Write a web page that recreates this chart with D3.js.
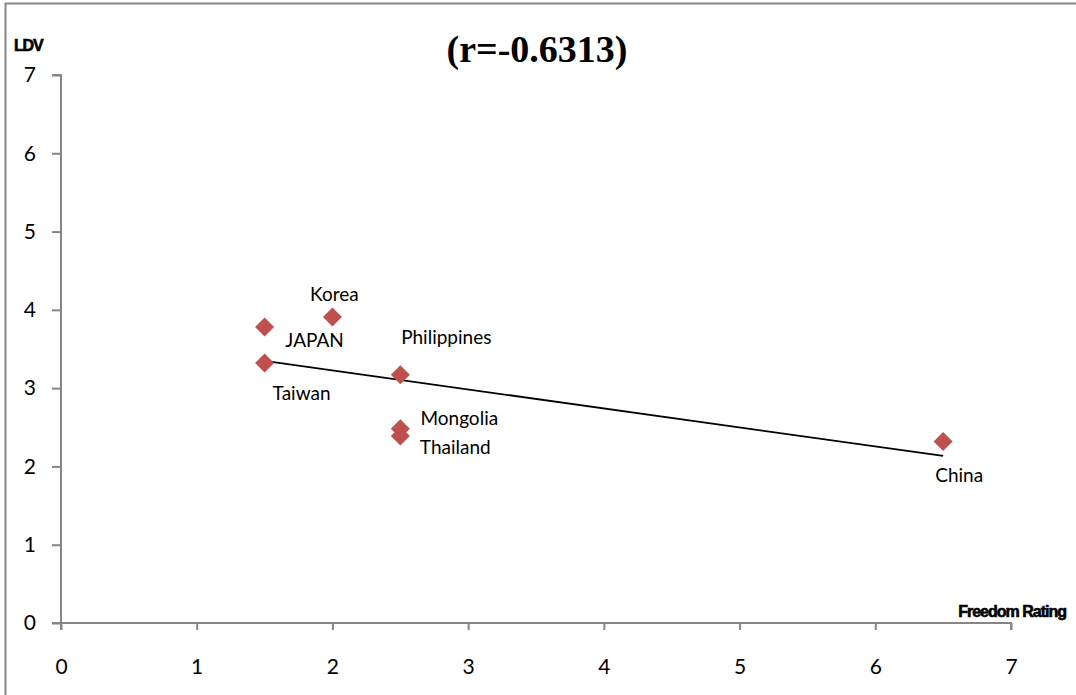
<!DOCTYPE html>
<html><head><meta charset="utf-8">
<script src="https://cdn.jsdelivr.net/npm/d3@7"></script>
<style>
html,body{margin:0;padding:0;background:#fff;}
svg{display:block;}
</style>
</head><body>
<svg id="chart" width="1076" height="695"></svg>
<script>
const countries = ["JAPAN","Taiwan","Korea","Philippines","Mongolia","Thailand","China"];
const freedom = [1.5, 1.5, 2, 2.5, 2.5, 2.5, 6.5];
const ldv = [3.78, 3.32, 3.91, 3.17, 2.48, 2.39, 2.32];
const xTicks = [0,1,2,3,4,5,6,7];
const yTicks = [0,1,2,3,4,5,6,7];
const titleText = "(r=-0.6313)";
const xTitle = "Freedom Rating";
const yTitle = "LDV";
// label offsets (dx, dy) relative to point, in px
const labelOffsets = [[50,12],[37,29],[2,-23],[46,-38],[59,-11],[55,11],[16,33]];

const svg = d3.select("#chart");
const axisColor = "#868686";
const x = d3.scaleLinear().domain([0,7]).range([61,1011]);
const y = d3.scaleLinear().domain([0,7]).range([623,75]);

// frame (top and left edges)
svg.append("line").attr("x1",5).attr("x2",1076).attr("y1",3.5).attr("y2",3.5).attr("stroke",axisColor).attr("stroke-width",2);
svg.append("line").attr("x1",5.5).attr("x2",5.5).attr("y1",3).attr("y2",695).attr("stroke",axisColor).attr("stroke-width",2);

// axes
const xAxis = d3.axisBottom(x).tickValues(xTicks).tickSize(7).tickPadding(29).tickFormat(d3.format("d"));
const gx = svg.append("g").attr("transform",`translate(0,${y(0)})`).call(xAxis);
const yAxis = d3.axisLeft(y).tickValues(yTicks).tickSize(9).tickPadding(16).tickFormat(d3.format("d"));
const gy = svg.append("g").attr("transform",`translate(${x(0)},0)`).call(yAxis);
[gx,gy].forEach(g=>{
  g.select(".domain").attr("stroke",axisColor).attr("stroke-width",2);
  g.selectAll(".tick line").attr("stroke",axisColor).attr("stroke-width",2);
  g.selectAll(".tick text").attr("font-family","Lato, 'Open Sans', sans-serif").attr("font-size",21).attr("fill","#000");
});
gx.select(".domain").attr("d",`M${x(0)-9},0H${x(7)}V7`);
gy.select(".domain").attr("d",`M-9,${y(7)}H0V${y(0)+7}`);

// regression line
const n = freedom.length;
const mx = d3.mean(freedom), my = d3.mean(ldv);
let sxy=0, sxx=0;
for(let i=0;i<n;i++){ sxy += (freedom[i]-mx)*(ldv[i]-my); sxx += (freedom[i]-mx)**2; }
const slope = sxy/sxx, intercept = my - slope*mx;
const x0 = d3.min(freedom), x1 = d3.max(freedom);
svg.append("line")
  .attr("x1",x(x0)).attr("y1",y(intercept+slope*x0))
  .attr("x2",x(x1)).attr("y2",y(intercept+slope*x1))
  .attr("stroke","#000").attr("stroke-width",1.8);

// points
const data = countries.map((c,i)=>({c, fx:freedom[i], v:ldv[i], off:labelOffsets[i]}));
const h = 9.5;
svg.selectAll("path.pt").data(data).enter().append("path")
  .attr("class","pt")
  .attr("d",d=>{const px=x(d.fx), py=y(d.v); return `M${px},${py-h}L${px+h},${py}L${px},${py+h}L${px-h},${py}Z`;})
  .attr("fill","#C0504D");

// labels
svg.selectAll("text.lbl").data(data).enter().append("text")
  .attr("class","lbl")
  .attr("x",d=>x(d.fx)+d.off[0]).attr("y",d=>y(d.v)+d.off[1])
  .attr("text-anchor","middle").attr("dominant-baseline","central")
  .attr("font-family","Lato, 'Open Sans', sans-serif").attr("font-size",19).attr("fill","#000")
  .text(d=>d.c);

// title
svg.append("text").attr("x",537).attr("y",62).attr("text-anchor","middle")
  .attr("font-family","'Liberation Serif', 'Times New Roman', serif").attr("font-weight","bold").attr("font-size",38)
  .text(titleText);

// axis titles
svg.append("text").attr("x",14).attr("y",51)
  .attr("font-family","'Liberation Sans', Arial, sans-serif").attr("font-weight","bold").attr("font-size",16).attr("letter-spacing",-1.2)
  .attr("stroke","#000").attr("stroke-width",0.6)
  .text(yTitle);
svg.append("text").attr("x",1066).attr("y",617).attr("text-anchor","end")
  .attr("font-family","'Liberation Sans', Arial, sans-serif").attr("font-weight","bold").attr("font-size",16).attr("letter-spacing",-1)
  .attr("stroke","#000").attr("stroke-width",0.6)
  .text(xTitle);
</script>
</body></html>
